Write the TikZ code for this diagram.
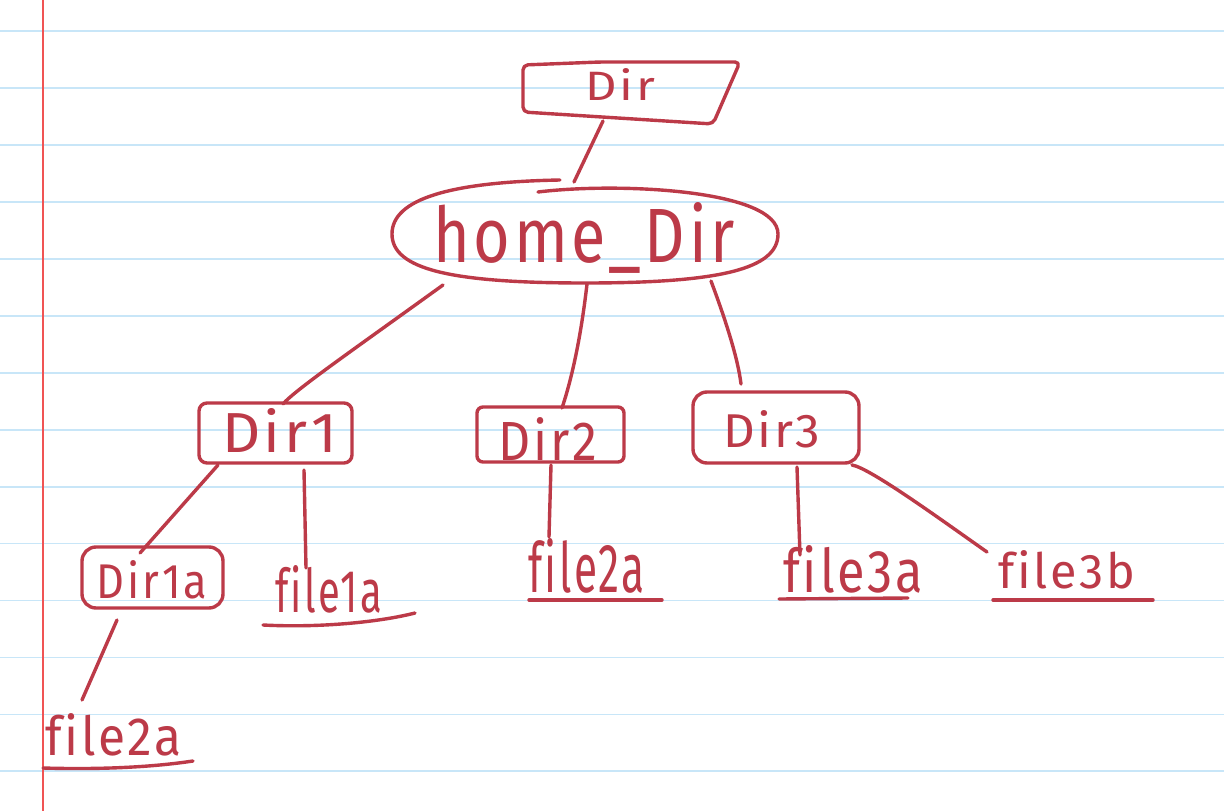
\documentclass[tikz,border=0pt]{standalone}
\usepackage{graphicx}
\usepackage{fontspec}
\setmainfont[Ligatures=NoCommon, LetterSpace=6]{Fira Sans}
\usetikzlibrary{shapes.geometric}
\definecolor{ink}{RGB}{188,58,72}
\definecolor{rulecol}{RGB}{200,230,248}
\definecolor{margincol}{RGB}{240,84,84}
\newcommand{\hw}[3]{\resizebox{#1pt}{#2pt}{\fontsize{40}{40}\selectfont #3}}
\tikzset{
  pen/.style={draw=ink, line width=3.4pt, line cap=round, line join=round},
  boxnode/.style={pen, rectangle, inner sep=0pt},
  lbl/.style={text=ink, inner sep=0pt, anchor=base},
}
\begin{document}
\begin{tikzpicture}[x=1pt,y=-1pt]
\useasboundingbox (0,0) rectangle (1224,811);
% paper
\fill[white] (0,0) rectangle (1224,811);
\foreach \k in {0,...,13}
  \draw[rulecol, line width=1.8pt] (0,{31+56.95*\k}) -- (1224,{31+56.95*\k});
\draw[margincol, line width=2pt] (42.7,0) -- (42.7,811);

% top Dir
\node[inner sep=0pt, minimum width=190pt, minimum height=50pt] (dir) at (618,91) {};
\draw[pen, rounded corners=5pt] (523,112) -- (523,65) -- (600,62) -- (740,62) -- (713,124) -- cycle;
\node[lbl] (tdir) at (620,100) {\hw{70}{32}{Dir}};

% home_Dir
\node[ellipse, inner sep=0pt, minimum width=386pt, minimum height=98pt] (home) at (585,234) {};
\draw[pen] (538,192) .. controls (620,182) and (778,190) .. (778,234)
  .. controls (778,269) and (720,283) .. (585,283)
  .. controls (450,283) and (392,269) .. (392,234)
  .. controls (392,199) and (450,182) .. (560,180);
\node[lbl] (thome) at (584,262) {\hw{302}{60}{home\_Dir}};

% boxes
\node[boxnode, minimum width=153pt, minimum height=60pt, rounded corners=8pt] (d1) at (275.5,433) {};
\node[lbl] (td1) at (279.5,452) {\hw{115}{44}{Dir1}};
\node[boxnode, minimum width=147pt, minimum height=55pt, rounded corners=6pt] (d2) at (550.5,434.5) {};
\node[lbl] (td2) at (547.5,460) {\hw{99}{43}{Dir2}};
\node[boxnode, minimum width=166pt, minimum height=71pt, rounded corners=14pt] (d3) at (776,427.5) {};
\node[lbl] (td3) at (771.5,447) {\hw{97}{37}{Dir3}};
\node[boxnode, minimum width=141pt, minimum height=61pt, rounded corners=14pt] (d1a) at (152.5,577.5) {};
\node[lbl] (td1a) at (152,598) {\hw{110}{38}{Dir1a}};

% files
\node[lbl] (f1a) at (328.5,612) {\hw{107}{47}{file1a}};
\node[lbl] (f2a) at (586.5,592) {\hw{117}{54}{file2a}};
\node[lbl] (f3a) at (853,592) {\hw{140}{47}{file3a}};
\node[lbl] (f3b) at (1066.5,588) {\hw{137}{38}{file3b}};
\node[lbl] (f2b) at (113.5,755) {\hw{137}{42}{file2a}};

% underlines
\draw[pen] (263,625) .. controls (320,628) and (380,622) .. (415,613);
\draw[pen] (529,600) -- (662,600);
\draw[pen] (779,599) -- (908,598);
\draw[pen] (993,600) -- (1153,600);
\draw[pen] (43,768) .. controls (110,770) and (160,766) .. (193,761);

% connectors
\draw[pen] ([xshift=-15pt,yshift=-30pt]dir.center) -- ([xshift=-11pt,yshift=52pt]home.center);
\draw[pen] ([xshift=-142pt,yshift=-51pt]home.center) .. controls +(-90,65) and +(12,-14) .. ([xshift=7.5pt,yshift=29pt]d1.center);
\draw[pen] ([xshift=2pt,yshift=-50pt]home.center) .. controls +(-8,70) and +(5,-15) .. ([xshift=11.5pt,yshift=26.5pt]d2.center);
\draw[pen] ([xshift=126pt,yshift=-47pt]home.center) .. controls +(15,40) and +(-3,-25) .. ([xshift=-35pt,yshift=43.5pt]d3.center);
\draw[pen] ([xshift=-57.5pt,yshift=-32pt]d1.center) -- ([xshift=-12.5pt,yshift=24.5pt]d1a.center);
\draw[pen] ([xshift=28.5pt,yshift=-37pt]d1.center) -- ([xshift=-22.5pt,yshift=44pt]f1a.base);
\draw[pen] ([xshift=0.5pt,yshift=-30.5pt]d2.center) -- ([xshift=-37.5pt,yshift=55pt]f2a.base);
\draw[pen] ([xshift=21pt,yshift=-39.5pt]d3.center) -- ([xshift=-53pt,yshift=37pt]f3a.base);
\draw[pen] ([xshift=76pt,yshift=-37.5pt]d3.center) .. controls +(18,3) and +(-47,-33) .. ([xshift=-79.5pt,yshift=36pt]f3b.base);
\draw[pen] ([xshift=-35.5pt,yshift=-42.5pt]d1a.center) -- ([xshift=-31.5pt,yshift=55pt]f2b.base);
\end{tikzpicture}
\end{document}
